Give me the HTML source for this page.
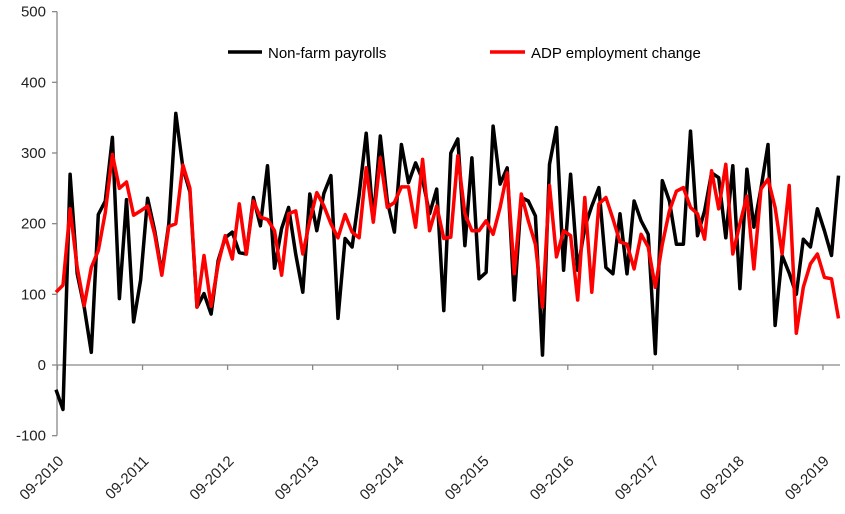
<!DOCTYPE html>
<html><head><meta charset="utf-8"><style>
html,body{margin:0;padding:0;background:#fff;}
svg{display:block;font-family:"Liberation Sans",sans-serif;}
</style></head><body>
<svg id="chart" width="845" height="514" viewBox="0 0 845 514" xmlns="http://www.w3.org/2000/svg">
<g id="axes"></g>
<g id="series"></g>
<g id="legend">
  <line x1="228" y1="52" x2="262" y2="52" stroke="#000" stroke-width="3.5"/>
  <text x="268" y="58" font-size="15" fill="#000">Non-farm payrolls</text>
  <line x1="490" y1="52" x2="525" y2="52" stroke="#f00" stroke-width="3.5"/>
  <text x="531" y="58" font-size="15" fill="#000">ADP employment change</text>
</g>
</svg>
<script>
const yTicks = [-100, 0, 100, 200, 300, 400, 500];
const xTickLabels = ["09-2010","09-2011","09-2012","09-2013","09-2014","09-2015","09-2016","09-2017","09-2018","09-2019"];
const nfp = [-35,-63,270,129,82,18,213,232,322,94,234,61,120,236,190,130,200,356,279,245,
82,101,72,148,180,188,159,157,237,197,282,137,193,223,157,103,242,190,243,268,
66,179,167,240,328,204,324,232,188,312,258,286,262,214,249,77,300,320,169,293,
122,131,338,256,279,92,237,232,211,14,284,336,134,270,134,195,225,251,138,129,
214,129,232,204,185,16,261,232,171,171,331,183,218,272,265,180,282,108,277,195,
250,312,56,155,130,100,178,167,221,190,155,268];
const adp = [103,113,221,138,84,138,162,216,298,250,259,212,218,225,185,127,196,200,283,250,
82,155,83,143,183,150,228,157,232,209,206,190,127,214,218,157,204,244,225,200,
180,213,188,180,279,202,293,223,230,252,252,195,291,190,225,179,181,296,214,190,
190,204,185,223,272,129,242,204,171,82,254,153,190,183,92,237,103,228,237,207,
174,171,136,185,167,110,171,218,246,251,223,214,178,275,221,284,157,200,239,136,
249,263,223,157,254,45,110,143,157,124,122,66];

const NS = "http://www.w3.org/2000/svg";
const X0 = 57, MONTH = 7.05, TICK0 = 57.5, YEARPX = 85.05;
function yScale(v){ return 365 - v * 0.7067; }
function xScale(i){ return 56 + i * MONTH; }
function mk(tag, attrs){ const e = document.createElementNS(NS, tag); for (const k in attrs) e.setAttribute(k, attrs[k]); return e; }

const axes = document.getElementById('axes');
const yAxis = mk('line', {x1:X0, y1:yScale(500), x2:X0, y2:yScale(-100), stroke:'#888', 'stroke-width':1.3});


axes.appendChild(yAxis);
yTicks.forEach(v => {
  const y = yScale(v);
  const t = mk('line', {x1:X0-5, y1:y, x2:X0, y2:y, stroke:'#888', 'stroke-width':1.3});
  
  
  axes.appendChild(t);
  const l = mk('text', {x:X0-11, y:y+5, 'font-size':15, 'text-anchor':'end', fill:'#222'});
  l.textContent = v;
  
  
  axes.appendChild(l);
});
const xAxis = mk('line', {x1:X0, y1:yScale(0), x2:840, y2:yScale(0), stroke:'#888', 'stroke-width':1.3});


axes.appendChild(xAxis);
xTickLabels.forEach((lab, k) => {
  const x = TICK0 + k * YEARPX;
  const t = mk('line', {x1:x, y1:yScale(0), x2:x, y2:yScale(0)+5, stroke:'#888', 'stroke-width':1.3});
  
  
  axes.appendChild(t);
  const l = mk('text', {x:0, y:0, 'font-size':15, 'text-anchor':'end', fill:'#222', transform:`translate(${x+7},${462}) rotate(-45)`});
  l.textContent = lab;
  
  
  axes.appendChild(l);
});

const series = document.getElementById('series');
function drawLine(vals, color, name){
  const pts = vals.map((v, i) => xScale(i).toFixed(1) + ',' + yScale(v).toFixed(1)).join(' ');
  const p = mk('polyline', {points:pts, fill:'none', stroke:color, 'stroke-width':3.5, 'stroke-linejoin':'round'});
  
  
  series.appendChild(p);
}
drawLine(nfp, '#000', 'nfp-line');
drawLine(adp, '#f00', 'adp-line');
</script>
</body></html>
